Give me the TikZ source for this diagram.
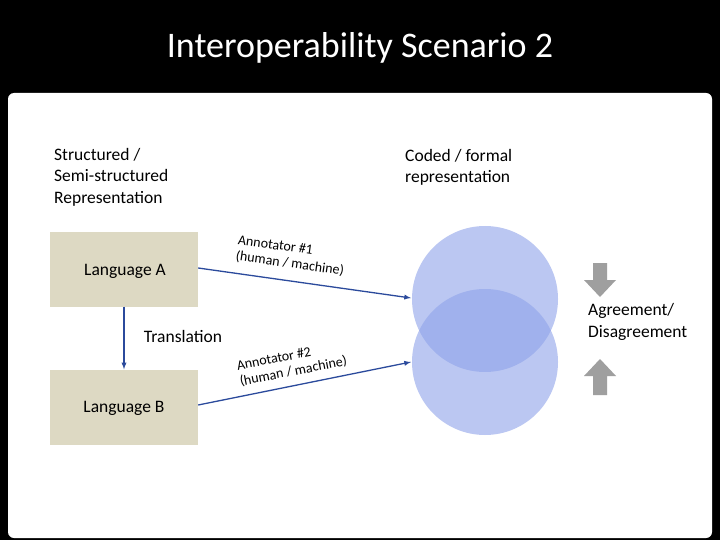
\documentclass[tikz,border=0pt]{standalone}
\usepackage{fontspec}
\setmainfont{Carlito}
\begin{document}
\begin{tikzpicture}[x=1pt,y=-1pt,
  lang/.style={fill=boxc,draw=none,minimum width=148pt,minimum height=75pt,inner sep=0pt},
  txt/.style={font=\fontsize{17.5}{21.5}\selectfont,align=left,inner sep=0pt},
  ann/.style={align=left,inner sep=0pt,font=\fontsize{14}{16}\selectfont},
  conn/.style={draw=arrc,line width=1.3pt,-latex}]
\definecolor{boxc}{HTML}{DDD9C3}
\definecolor{arrc}{HTML}{2B4A9C}
\definecolor{circc}{HTML}{8FA3EA}
\fill[black] (0,0) rectangle (720,540);
\useasboundingbox (0,0) rectangle (720,540);
\fill[white,rounded corners=6pt] (8,93) rectangle (712,538);
\node[white,font=\fontsize{36}{40}\selectfont] (title) at (360,48) {Interoperability Scenario 2};
\node[txt,anchor=north west] (s) at (54,148) {Structured /\\Semi-structured\\Representation};
\node[txt,anchor=north west] (c) at (405,149) {Coded / formal\\representation};
\node[lang] (A) at (124,269) {};
\node[txt] at (125,271) {Language A};
\node[lang] (B) at (124,407) {};
\node[txt] at (124,408) {Language B};
\fill[circc,opacity=0.6] (485,299) circle (73);
\fill[circc,opacity=0.6] (485,362) circle (73);
\coordinate (c1) at (411,298);
\coordinate (c2) at (411,362);
\draw[conn] (A.east |- 0,268) -- (c1);
\draw[conn] (B.east |- 0,405) -- (c2);
\draw[conn] (A.south) -- (B.north);
\node[txt] at (183,336) {Translation};
\node[ann,rotate=-8] at (291,256) {Annotator \#1\\(human / machine)};
\node[ann,rotate=11] at (292,364) {Annotator \#2\\(human / machine)};
\fill[gray!75] (593,263) -- (607,263) -- (607,280) -- (616,280) -- (600,297) -- (584,280) -- (593,280) -- cycle;
\fill[gray!75] (593,395) -- (607,395) -- (607,376) -- (616,376) -- (600,359) -- (584,376) -- (593,376) -- cycle;
\node[txt,anchor=west] at (588,322) {Agreement/\\Disagreement};
\end{tikzpicture}
\end{document}
